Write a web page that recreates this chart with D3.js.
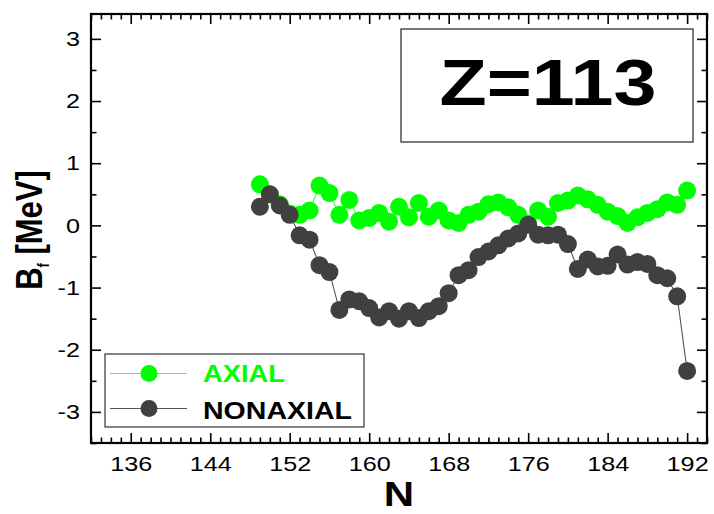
<!DOCTYPE html>
<html>
<head>
<meta charset="utf-8">
<script src="https://cdn.jsdelivr.net/npm/d3@7"></script>
<style>
  html, body { margin: 0; padding: 0; background: #fff; }
  svg { display: block; }
  text { font-family: "Liberation Sans", Arial, sans-serif; }
</style>
</head>
<body>
<svg id="chart" width="714" height="514"></svg>
<script>
// Neutron numbers N
const neutrons = [149,150,151,152,153,154,155,156,157,158,159,160,161,162,163,164,165,166,167,168,169,170,
                  171,172,173,174,175,176,177,178,179,180,181,182,183,184,185,186,187,188,189,190,191,192];
// Fission barrier heights B_f [MeV]
const axial = [0.66,0.50,0.34,0.19,0.17,0.24,0.64,0.52,0.17,0.41,0.08,0.12,0.20,0.06,0.30,0.13,0.36,0.14,0.24,0.08,0.04,0.17,
               0.22,0.34,0.37,0.29,0.17,0.03,0.24,0.14,0.36,0.40,0.48,0.42,0.33,0.22,0.15,0.04,0.13,0.20,0.26,0.37,0.33,0.56];
const nonaxial = [0.30,0.50,0.32,0.17,-0.16,-0.23,-0.64,-0.75,-1.36,-1.19,-1.22,-1.33,-1.48,-1.38,-1.50,-1.38,-1.49,-1.38,-1.30,-1.09,-0.80,-0.72,
                  -0.51,-0.42,-0.32,-0.21,-0.13,0.01,-0.15,-0.16,-0.15,-0.30,-0.70,-0.55,-0.66,-0.65,-0.47,-0.63,-0.59,-0.62,-0.80,-0.85,-1.14,-2.34];

const xMajor = [136,144,152,160,168,176,184,192];
const xMinor = [132,133,134,135,137,138,139,140,141,142,143,145,146,147,148,149,150,151,153,154,155,156,157,158,159,
                161,162,163,164,165,166,167,169,170,171,172,173,174,175,177,178,179,180,181,182,183,185,186,187,188,189,190,191,193,194];
const yMajor = [-3,-2,-1,0,1,2,3];
const yMinor = [-3.5,-2.5,-1.5,-0.5,0.5,1.5,2.5];

const seriesNames = ["AXIAL", "NONAXIAL"];
const title = "Z=113";

const svg = d3.select("#chart");
const L = 91, R = 707, T = 14, B = 443;
const sx = 1.2; // horizontal text stretch

const x = d3.scaleLinear().domain([132, 194]).range([L, R]);
const y = d3.scaleLinear().domain([-3.5, 3.4]).range([B, T]);

// ---- axes (ticks point inward on all four sides) ----
function styleAxis(g) {
  g.select(".domain").remove();
  g.selectAll(".tick line").attr("stroke", "#000").attr("stroke-width", 1.6);
}
const noLabel = () => "";
const plain = d => String(d); // hyphen-minus for negatives

svg.append("g").attr("transform", `translate(0,${B})`)
  .call(d3.axisBottom(x).tickValues(xMinor).tickSize(-5.5).tickFormat(noLabel)).call(styleAxis);
const xb = svg.append("g").attr("transform", `translate(0,${B})`)
  .call(d3.axisBottom(x).tickValues(xMajor).tickSize(-10).tickPadding(13).tickFormat(plain)).call(styleAxis);
xb.selectAll("text").attr("font-size", 21).attr("fill", "#000").attr("transform", `scale(${sx},1)`)
  .attr("x", 0);

svg.append("g").attr("transform", `translate(0,${T})`)
  .call(d3.axisTop(x).tickValues(xMinor).tickSize(-5.5).tickFormat(noLabel)).call(styleAxis);
svg.append("g").attr("transform", `translate(0,${T})`)
  .call(d3.axisTop(x).tickValues(xMajor).tickSize(-10).tickFormat(noLabel)).call(styleAxis);

svg.append("g").attr("transform", `translate(${L},0)`)
  .call(d3.axisLeft(y).tickValues(yMinor).tickSize(-5.5).tickFormat(noLabel)).call(styleAxis);
const yl = svg.append("g").attr("transform", `translate(${L},0)`)
  .call(d3.axisLeft(y).tickValues(yMajor).tickSize(-10).tickPadding(11).tickFormat(plain)).call(styleAxis);
yl.selectAll("text").attr("font-size", 21).attr("fill", "#000")
  .attr("x", -11 / sx).attr("transform", `scale(${sx},1)`);

svg.append("g").attr("transform", `translate(${R},0)`)
  .call(d3.axisRight(y).tickValues(yMinor).tickSize(-5.5).tickFormat(noLabel)).call(styleAxis);
svg.append("g").attr("transform", `translate(${R},0)`)
  .call(d3.axisRight(y).tickValues(yMajor).tickSize(-10).tickFormat(noLabel)).call(styleAxis);

svg.append("rect").attr("x", L).attr("y", T).attr("width", R - L).attr("height", B - T)
  .attr("fill", "none").attr("stroke", "#000").attr("stroke-width", 2.2);

// ---- axis titles ----
svg.append("text").attr("transform", `translate(${(L + R) / 2},506) scale(${sx},1)`)
  .attr("text-anchor", "middle").attr("font-size", 35).attr("font-weight", "bold").text("N");

const yt = svg.append("text")
  .attr("transform", `translate(42,230) rotate(-90) scale(1,${sx})`)
  .attr("text-anchor", "middle")
  .attr("font-size", 31).attr("font-weight", "bold");
yt.append("tspan").text("B");
yt.append("tspan").attr("font-size", 13).attr("dy", 6).text("f");
yt.append("tspan").attr("dy", -6).text(" [MeV]");

// ---- series ----
svg.append("clipPath").attr("id", "plotclip")
  .append("rect").attr("x", L).attr("y", T).attr("width", R - L).attr("height", B - T);

const series = [
  { name: seriesNames[0], values: axial, line: "#44ff44", fill: "#00ff00" },
  { name: seriesNames[1], values: nonaxial, line: "#555555", fill: "#404040" }
];
const lineGen = d3.line().x(d => x(d[0])).y(d => y(d[1]));
const plot = svg.append("g").attr("clip-path", "url(#plotclip)");
series.forEach(s => {
  const pts = neutrons.map((n, i) => [n, s.values[i]]);
  plot.append("path").datum(pts).attr("d", lineGen)
    .attr("fill", "none").attr("stroke", s.line).attr("stroke-width", 1.1);
  plot.append("g").selectAll("circle").data(pts).join("circle")
    .attr("cx", d => x(d[0])).attr("cy", d => y(d[1])).attr("r", 9).attr("fill", s.fill);
});

// ---- legend ----
const lg = svg.append("g");
lg.append("rect").attr("x", 105).attr("y", 354).attr("width", 259).attr("height", 73)
  .attr("fill", "#fff").attr("stroke", "#333").attr("stroke-width", 1.2);
const legendRows = [373.5, 408.5];
series.forEach((s, i) => {
  const ly = legendRows[i];
  lg.append("line").attr("x1", 110).attr("x2", 187).attr("y1", ly).attr("y2", ly)
    .attr("stroke", s.line).attr("stroke-width", 1.1);
  lg.append("circle").attr("cx", 149).attr("cy", ly).attr("r", 8.5).attr("fill", s.fill);
  lg.append("text").attr("x", 203).attr("y", ly + 8.5 + (i ? 2 : 0))
    .attr("font-size", 24).attr("font-weight", "bold")
    .attr("fill", i === 0 ? "#00ff00" : "#000")
    .attr("textLength", i === 0 ? 82 : 149).attr("lengthAdjust", "spacingAndGlyphs")
    .text(s.name);
});

// ---- title box ----
svg.append("rect").attr("x", 401).attr("y", 29).attr("width", 292).attr("height", 113)
  .attr("fill", "#fff").attr("stroke", "#222").attr("stroke-width", 1.2);
svg.append("text").attr("x", 439.5).attr("y", 104.5)
  .attr("font-size", 64).attr("font-weight", "bold")
  .attr("textLength", 217).attr("lengthAdjust", "spacingAndGlyphs")
  .text(title);
</script>
</body>
</html>
